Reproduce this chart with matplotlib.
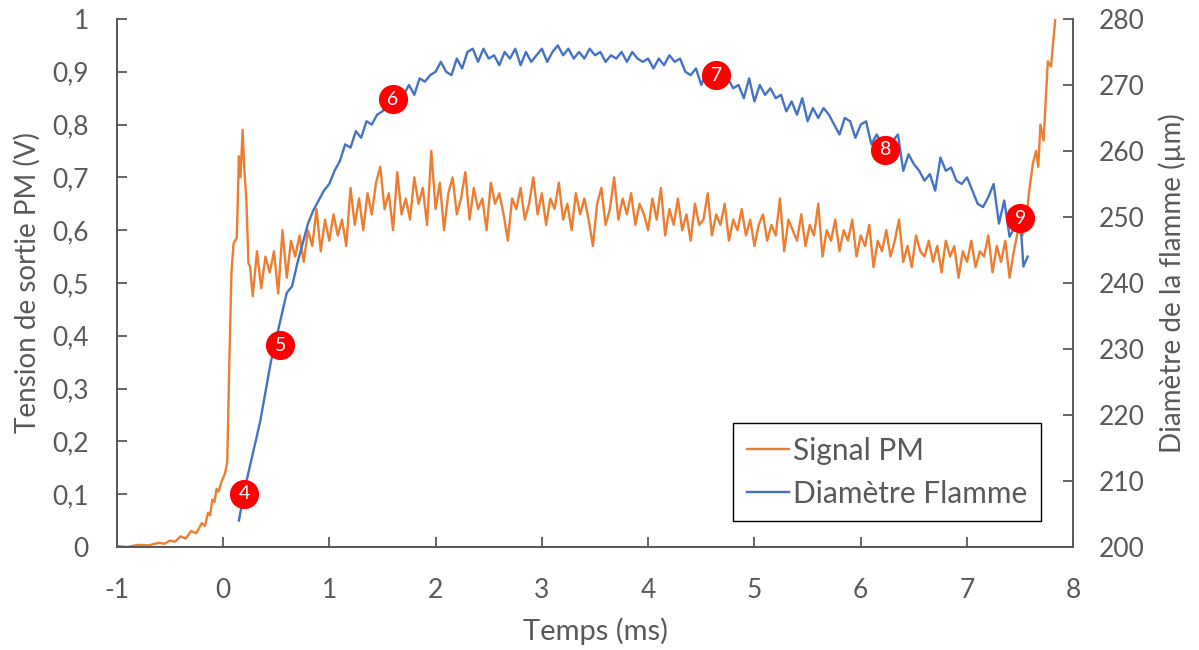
import matplotlib.pyplot as plt
from matplotlib.lines import Line2D

# Signal PM (left axis, V)
pm_t = [-1.0, -0.9, -0.8, -0.7, -0.6, -0.55, -0.5, -0.45, -0.4, -0.35, -0.3, -0.25, -0.2, -0.17,
        -0.14, -0.12, -0.1, -0.08, -0.06, -0.04, -0.02, 0.0, 0.02, 0.04, 0.06, 0.08, 0.10, 0.13,
        0.15, 0.165, 0.185, 0.20, 0.22, 0.24, 0.255,
        0.28, 0.32, 0.36, 0.40, 0.44, 0.48, 0.52, 0.56, 0.60, 0.64,
        0.68, 0.72, 0.76, 0.80, 0.84, 0.88, 0.92, 0.96, 1.00, 1.04,
        1.08, 1.12, 1.16, 1.20, 1.24, 1.28, 1.32, 1.36, 1.40, 1.44,
        1.48, 1.52, 1.56, 1.60, 1.64, 1.68, 1.72, 1.76, 1.80, 1.84,
        1.88, 1.92, 1.96, 2.00, 2.04, 2.08, 2.12, 2.16, 2.20, 2.24,
        2.28, 2.32, 2.36, 2.40, 2.44, 2.48, 2.52, 2.56, 2.60, 2.64,
        2.68, 2.72, 2.76, 2.80, 2.84, 2.88, 2.92, 2.96, 3.00, 3.04,
        3.08, 3.12, 3.16, 3.20, 3.24, 3.28, 3.32, 3.36, 3.40, 3.44,
        3.48, 3.52, 3.56, 3.60, 3.64, 3.68, 3.72, 3.76, 3.80, 3.84,
        3.88, 3.92, 3.96, 4.00, 4.04, 4.08, 4.12, 4.16, 4.20, 4.24,
        4.28, 4.32, 4.36, 4.40, 4.44, 4.48, 4.52, 4.56, 4.60, 4.64,
        4.68, 4.72, 4.76, 4.80, 4.84, 4.88, 4.92, 4.96, 5.00, 5.04,
        5.08, 5.12, 5.16, 5.20, 5.24, 5.28, 5.32, 5.36, 5.40, 5.44,
        5.48, 5.52, 5.56, 5.60, 5.64, 5.68, 5.72, 5.76, 5.80, 5.84,
        5.88, 5.92, 5.96, 6.00, 6.04, 6.08, 6.12, 6.16, 6.20, 6.24,
        6.28, 6.32, 6.36, 6.40, 6.44, 6.48, 6.52, 6.56, 6.60, 6.64,
        6.68, 6.72, 6.76, 6.80, 6.84, 6.88, 6.92, 6.96, 7.00, 7.04,
        7.08, 7.12, 7.16, 7.20, 7.24, 7.28, 7.32, 7.36, 7.40,
        7.44, 7.48, 7.52, 7.56, 7.58, 7.62, 7.65, 7.67, 7.69, 7.72, 7.76, 7.79, 7.83, 7.86]
pm_v = [0.002, 0.0, 0.004, 0.003, 0.008, 0.006, 0.012, 0.01, 0.02, 0.016, 0.03, 0.026, 0.045, 0.04,
        0.065, 0.06, 0.09, 0.085, 0.11, 0.105, 0.12, 0.13, 0.14, 0.16, 0.35, 0.52, 0.575, 0.585,
        0.74, 0.70, 0.79, 0.72, 0.657, 0.537, 0.531,
        0.475, 0.56, 0.49, 0.55, 0.52, 0.56, 0.48, 0.60, 0.51, 0.58,
        0.55, 0.59, 0.54, 0.60, 0.57, 0.64, 0.56, 0.62, 0.58, 0.63,
        0.59, 0.62, 0.57, 0.68, 0.61, 0.66, 0.60, 0.67, 0.63, 0.69,
        0.72, 0.64, 0.67, 0.60, 0.71, 0.63, 0.66, 0.62, 0.70, 0.65,
        0.68, 0.61, 0.75, 0.64, 0.69, 0.60, 0.67, 0.70, 0.63, 0.66,
        0.71, 0.62, 0.68, 0.64, 0.66, 0.60, 0.69, 0.65, 0.67, 0.63,
        0.58, 0.66, 0.64, 0.68, 0.62, 0.65, 0.70, 0.63, 0.67, 0.61,
        0.66, 0.64, 0.69, 0.62, 0.65, 0.60, 0.67, 0.63, 0.66, 0.62,
        0.57, 0.65, 0.68, 0.61, 0.64, 0.70, 0.62, 0.66, 0.63, 0.67,
        0.61, 0.65, 0.63, 0.60, 0.66, 0.62, 0.68, 0.59, 0.64, 0.61,
        0.66, 0.60, 0.63, 0.58, 0.65, 0.61, 0.62, 0.67, 0.59, 0.63,
        0.61, 0.65, 0.58, 0.62, 0.60, 0.64, 0.59, 0.62, 0.57, 0.61,
        0.63, 0.58, 0.61, 0.59, 0.66, 0.56, 0.62, 0.60, 0.58, 0.63,
        0.57, 0.61, 0.59, 0.65, 0.55, 0.60, 0.58, 0.62, 0.56, 0.60,
        0.58, 0.62, 0.55, 0.59, 0.57, 0.61, 0.53, 0.58, 0.56, 0.60,
        0.55, 0.58, 0.62, 0.54, 0.57, 0.53, 0.59, 0.56, 0.55, 0.58,
        0.54, 0.57, 0.52, 0.58, 0.55, 0.57, 0.51, 0.56, 0.54, 0.58,
        0.53, 0.56, 0.55, 0.59, 0.52, 0.57, 0.54, 0.58, 0.51,
        0.56, 0.60, 0.59, 0.62, 0.667, 0.727, 0.75, 0.72, 0.80, 0.77, 0.92, 0.91, 1.0, 1.02]

# Diametre flamme (right axis, um)
diam_t = [0.15, 0.20, 0.25, 0.30, 0.35, 0.40, 0.45, 0.50, 0.55, 0.60,
          0.65, 0.70, 0.75, 0.80, 0.85, 0.90, 0.95, 1.00, 1.05, 1.10,
          1.15, 1.20, 1.25, 1.30, 1.35, 1.40, 1.45, 1.50, 1.55, 1.60,
          1.65, 1.70, 1.75, 1.80, 1.85, 1.90, 1.95, 2.00, 2.05, 2.10,
          2.15, 2.20, 2.25, 2.30, 2.35, 2.40, 2.45, 2.50, 2.55, 2.60,
          2.65, 2.70, 2.75, 2.80, 2.85, 2.90, 2.95, 3.00, 3.05, 3.10,
          3.15, 3.20, 3.25, 3.30, 3.35, 3.40, 3.45, 3.50, 3.55, 3.60,
          3.65, 3.70, 3.75, 3.80, 3.85, 3.90, 3.95, 4.00, 4.05, 4.10,
          4.15, 4.20, 4.25, 4.30, 4.35, 4.40, 4.45, 4.50, 4.55, 4.60,
          4.65, 4.70, 4.75, 4.80, 4.85, 4.90, 4.95, 5.00, 5.05, 5.10,
          5.15, 5.20, 5.25, 5.30, 5.35, 5.40, 5.45, 5.50, 5.55, 5.60,
          5.65, 5.70, 5.75, 5.80, 5.85, 5.90, 5.95, 6.00, 6.05, 6.10,
          6.15, 6.20, 6.25, 6.30, 6.35, 6.40, 6.45, 6.50, 6.55, 6.60,
          6.65, 6.70, 6.75, 6.80, 6.85, 6.90, 6.95, 7.00, 7.05, 7.10,
          7.15, 7.20, 7.25, 7.30, 7.35, 7.40, 7.45, 7.50, 7.53, 7.57]
diam_v = [204.0, 208.5, 212.0, 215.5, 219.0, 223.5, 228.0, 231.5, 235.0, 238.5,
          239.5, 243.0, 246.0, 249.0, 251.0, 252.5, 254.0, 255.0, 257.0, 258.5,
          261.0, 260.5, 263.0, 262.0, 264.5, 264.0, 265.5, 266.0, 267.0, 268.0,
          269.5, 268.5, 270.0, 268.5, 271.0, 270.5, 271.5, 272.0, 273.5, 272.0,
          271.5, 274.0, 272.5, 275.0, 275.5, 273.5, 275.5, 274.0, 274.5, 273.0,
          275.0, 274.0, 275.5, 273.0, 275.0, 273.5, 274.5, 275.5, 273.5, 275.0,
          276.0, 274.5, 275.5, 274.0, 275.0, 274.0, 275.5, 274.5, 275.0, 273.5,
          274.5, 274.0, 275.0, 273.5, 275.0, 274.0, 273.5, 274.0, 272.5, 274.0,
          273.0, 274.5, 273.5, 274.0, 272.0, 271.5, 272.5, 270.0, 272.0, 271.0,
          271.5, 270.5, 271.0, 269.5, 270.0, 268.0, 271.0, 267.5, 270.0, 268.5,
          269.5, 268.0, 268.5, 266.0, 267.5, 265.5, 268.0, 264.5, 266.5, 265.0,
          266.5, 265.5, 264.0, 262.5, 265.0, 264.5, 262.0, 264.0, 264.5, 261.0,
          262.5, 261.0, 260.5, 261.5, 262.5, 257.0, 259.5, 258.0, 257.0, 255.5,
          256.5, 254.0, 259.0, 257.0, 257.5, 255.5, 255.0, 256.0, 254.0, 252.0,
          251.5, 253.0, 255.0, 249.0, 252.5, 247.0, 248.5, 250.0, 242.5, 244.0]

# numbered markers (time, diameter axis)
mark_labels = ['4', '5', '6', '7', '8', '9']
mark_t = [0.20, 0.54, 1.60, 4.64, 6.23, 7.50]
mark_d = [208.1, 230.6, 267.8, 271.5, 260.2, 249.8]

x_ticks = list(range(-1, 9))
left_ticks = [0, 0.1, 0.2, 0.3, 0.4, 0.5, 0.6, 0.7, 0.8, 0.9, 1]
left_labels = ['0', '0,1', '0,2', '0,3', '0,4', '0,5', '0,6', '0,7', '0,8', '0,9', '1']
right_ticks = [200, 210, 220, 230, 240, 250, 260, 270, 280]

grey = '#595959'
orange = '#ED7D31'
blue = '#4472C4'

plt.rcParams['font.family'] = ['Lato', 'DejaVu Sans']
plt.rcParams['axes.unicode_minus'] = False

fig = plt.figure(figsize=(11.99, 6.5), dpi=100)
ax = fig.add_axes([0.0973, 0.1585, 0.7979, 0.8123])
ax2 = ax.twinx()

ax.plot(pm_t, pm_v, color=orange, lw=1.7)
ax2.plot(diam_t, diam_v, color=blue, lw=1.7)

for lab, t, d in zip(mark_labels, mark_t, mark_d):
    ax2.plot(t, d, 'o', color='#FF0000', markersize=21, markeredgewidth=0, zorder=5)
    ax2.text(t, d, lab, color='white', fontsize=14, ha='center', va='center', zorder=6)

ax.set_xlim(-1, 8)
ax.set_ylim(0, 1)
ax2.set_ylim(200, 280)
ax.set_xticks(x_ticks)
ax.set_yticks(left_ticks)
ax.set_yticklabels(left_labels)
ax2.set_yticks(right_ticks)

for a in (ax, ax2):
    a.spines['top'].set_visible(False)
    for s in a.spines.values():
        s.set_color(grey)
        s.set_linewidth(1.3)
    a.tick_params(direction='in', length=7, width=1.3, color=grey, labelcolor=grey,
                  labelsize=19)
ax.tick_params(axis='x', pad=22)
ax.tick_params(axis='y', pad=20)
ax2.tick_params(axis='y', pad=18)

ax.set_xlabel('Temps (ms)', color=grey, fontsize=21, labelpad=11)
ax.set_ylabel('Tension de sortie PM (V)', color=grey, fontsize=20, labelpad=8)
ax2.set_ylabel('Diamètre de la flamme (µm)', color=grey, fontsize=20, labelpad=10)

handles = [Line2D([], [], color=orange, lw=1.7), Line2D([], [], color=blue, lw=1.7)]
leg = ax2.legend(handles, ['Signal PM', 'Diamètre Flamme'], loc='lower right',
                 bbox_to_anchor=(0.966, 0.049), borderaxespad=0, fancybox=False,
                 framealpha=1, edgecolor='black', handlelength=1.4, handletextpad=0.15,
                 fontsize=21.5, labelspacing=0.5, borderpad=0.45)
for txt in leg.get_texts():
    txt.set_color(grey)
leg.get_frame().set_linewidth(1.0)

fig.savefig('out.png', dpi=100)
